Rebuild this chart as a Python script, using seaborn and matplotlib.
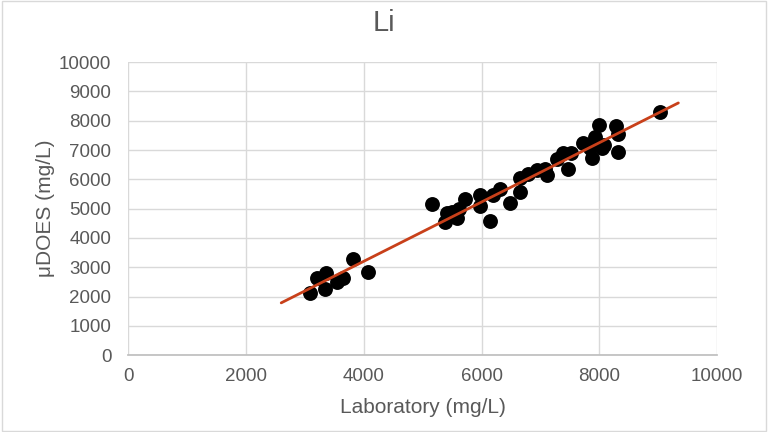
import numpy as np
import pandas as pd
import matplotlib
matplotlib.use('Agg')
import matplotlib.pyplot as plt
import seaborn as sns

lab = [3090, 3210, 3360, 3345, 3550, 3650, 3820, 4075,
       5155, 5380, 5410, 5495, 5610, 5580, 5720, 5975, 5975, 6145, 6200,
       6305, 6485, 6645, 6655, 6795, 6940, 7080, 7110,
       7280, 7390, 7475, 7515, 7730, 7845, 7875, 7930, 7985, 8045, 8070,
       8285, 8310, 8310, 9030]
udoes = [2115, 2630, 2800, 2255, 2490, 2630, 3275, 2835,
         5175, 4550, 4835, 4890, 5005, 4665, 5315, 5460, 5085, 4575, 5460,
         5655, 5200, 5575, 6030, 6200, 6315, 6370, 6145,
         6680, 6905, 6370, 6885, 7225, 7055, 6715, 7450, 7850, 7055, 7165,
         7815, 7565, 6940, 8305]
trend_x = [2600, 9340]

df = pd.DataFrame({'Laboratory': lab, 'uDOES': udoes})

sns.set_theme(style='white')
plt.rcParams['font.family'] = ['Liberation Sans', 'DejaVu Sans']
text_col = '#595959'

fig = plt.figure(figsize=(7.68, 4.32), dpi=100)
ax = fig.add_axes([0.1667, 0.178, 0.7672, 0.678])

ax.grid(True, color='#d9d9d9', lw=1)
ax.set_axisbelow(True)

sns.scatterplot(data=df, x='Laboratory', y='uDOES', ax=ax, s=115,
                color='black', edgecolor='black', linewidth=0, zorder=3)

slope, icpt = np.polyfit(lab, udoes, 1)
tx = np.array(trend_x)
ax.plot(tx, slope * tx + icpt, color='#C8401A', lw=2, zorder=4)

ax.set_xlim(0, 10000)
ax.set_ylim(0, 10000)
ax.set_xticks(range(0, 10001, 2000))
ax.set_yticks(range(0, 10001, 1000))
for s in ['top', 'right', 'left']:
    ax.spines[s].set_visible(False)
ax.spines['bottom'].set_color('#bfbfbf')
ax.tick_params(axis='both', length=0, labelsize=13.5, colors=text_col)
ax.tick_params(axis='y', pad=12)
ax.tick_params(axis='x', pad=9)

ax.set_xlabel('Laboratory (mg/L)', fontsize=15, color=text_col, labelpad=10)
ax.set_ylabel('μDOES (mg/L)', fontsize=15, color=text_col, labelpad=3)
fig.suptitle('Li', fontsize=21, color=text_col, x=0.5, y=0.98, va='top')

fig.patches.append(plt.Rectangle((0.002, 0.002), 0.996, 0.996, transform=fig.transFigure,
                                 fill=False, edgecolor='#d9d9d9', lw=1))

fig.savefig('out.png', dpi=100, facecolor='white')
